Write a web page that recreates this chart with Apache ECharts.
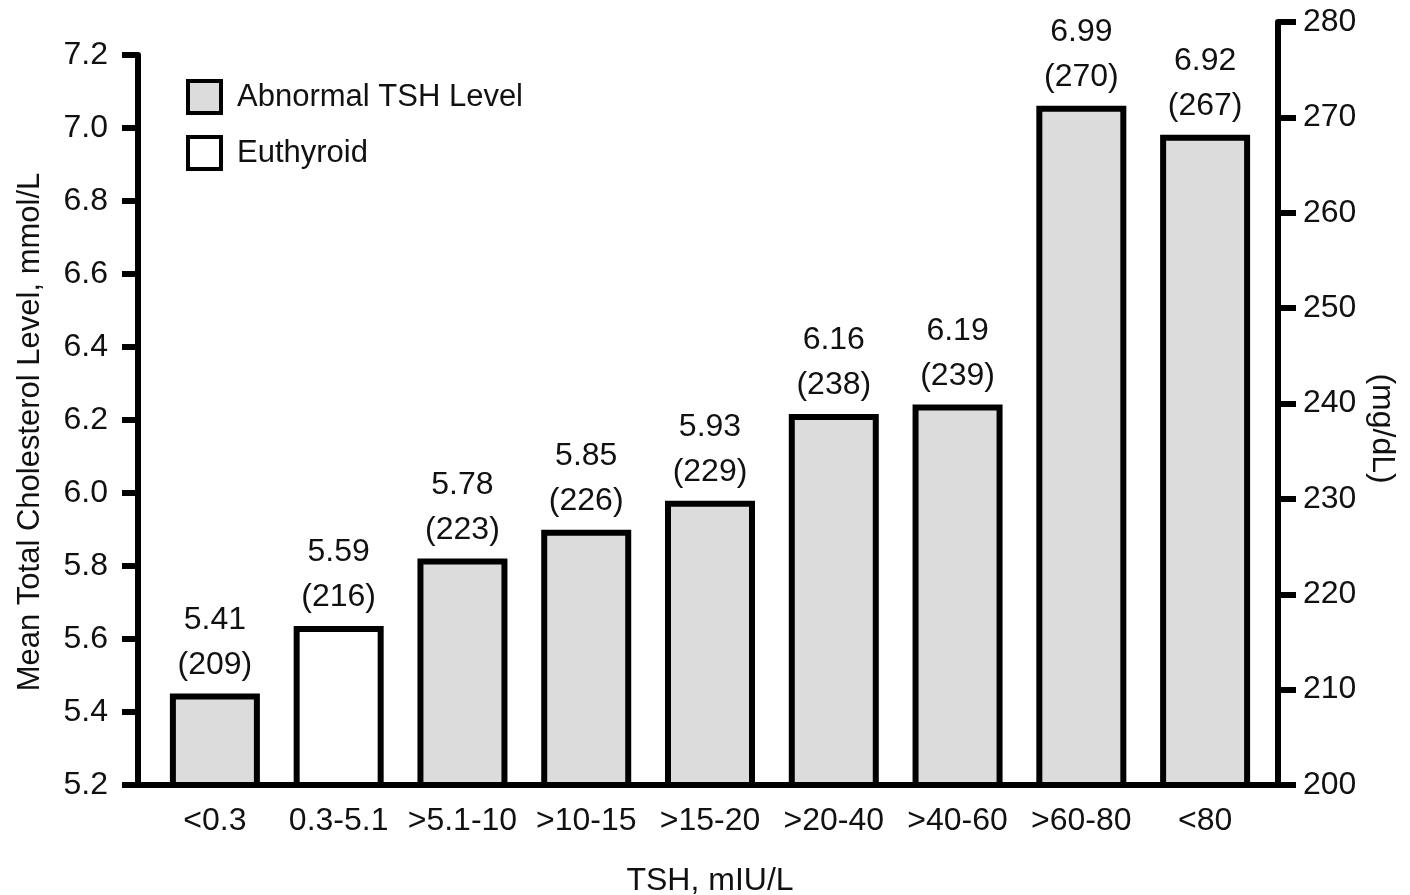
<!DOCTYPE html>
<html><head><meta charset="utf-8">
<script src="https://cdn.jsdelivr.net/npm/echarts@6/dist/echarts.min.js"></script>
<style>html,body{margin:0;padding:0;background:#fff}#c{width:1410px;height:895px}</style>
</head><body><div id="c"></div>
<script>
const categories = ['<0.3', '0.3-5.1', '>5.1-10', '>10-15', '>15-20', '>20-40', '>40-60', '>60-80', '<80'];
const mmolValues = [5.41, 5.59, 5.78, 5.85, 5.93, 6.16, 6.19, 6.99, 6.92];
const mgValues = [209, 216, 223, 226, 229, 238, 239, 270, 267];
const groups = ['Abnormal', 'Euthyroid', 'Abnormal', 'Abnormal', 'Abnormal', 'Abnormal', 'Abnormal', 'Abnormal', 'Abnormal'];
const seriesNames = ['Abnormal TSH Level', 'Euthyroid'];
const leftAxisRange = [5.2, 7.2, 0.2];
const rightAxisRange = [200, 280, 10];
// the bars in the source are drawn on a slightly different mg/dL scale than the printed right axis
const barScaleRange = [199.5, 278.7];

const FONT = '"Liberation Sans", Arial, sans-serif';
const FS = 32;
const TXT = '#111';

const abnormalData = mgValues.map((v, i) => groups[i] === 'Abnormal' ? v : '-');
const euthyroidData = mgValues.map((v, i) => groups[i] === 'Euthyroid' ? v : '-');

const labelCfg = {
  show: true, position: 'top', distance: 6,
  fontFamily: FONT, fontSize: FS, color: TXT, lineHeight: 45, align: 'center',
  formatter: p => mmolValues[p.dataIndex].toFixed(2) + '\n(' + mgValues[p.dataIndex] + ')'
};

const chart = echarts.init(document.getElementById('c'), null, {renderer: 'canvas'});
chart.setOption({
  animation: false,
  backgroundColor: '#fff',
  textStyle: {fontFamily: FONT},
  grid: [
    {left: 153, top: 22, width: 1114, height: 763, outerBoundsMode: 'none', containLabel: false},
    {left: 138, top: 22, width: 1140, height: 763, outerBoundsMode: 'none', containLabel: false},
    {left: 138, top: 55, width: 1140, height: 730, outerBoundsMode: 'none', containLabel: false}
  ],
  legend: {
    data: seriesNames, orient: 'vertical', left: 186, top: 79, padding: 0,
    itemWidth: 33, itemHeight: 32, itemGap: 20, icon: 'rect',
    itemStyle: {borderWidth: 4, borderColor: '#000'},
    textStyle: {fontFamily: FONT, fontSize: 31, color: TXT, padding: [0, 0, 0, 11], lineHeight: 32}
  },
  xAxis: [
    {gridIndex: 0, type: 'category', data: categories,
     axisLine: {show: false}, axisTick: {show: false},
     axisLabel: {fontFamily: FONT, fontSize: FS, color: TXT, margin: 20, interval: 0},
     name: 'TSH, mIU/L', nameLocation: 'middle', nameGap: 80,
     nameTextStyle: {fontFamily: FONT, fontSize: FS, color: TXT}},
    {gridIndex: 1, type: 'value', min: 0, max: 1,
     axisLine: {show: true, onZero: false, lineStyle: {color: '#000', width: 6}},
     axisTick: {show: false}, axisLabel: {show: false}, splitLine: {show: false}},
    {gridIndex: 2, type: 'value', min: 0, max: 1, show: false}
  ],
  yAxis: [
    {gridIndex: 0, type: 'value', min: barScaleRange[0], max: barScaleRange[1], show: false},
    {gridIndex: 1, type: 'value', position: 'right',
     min: rightAxisRange[0], max: rightAxisRange[1], interval: rightAxisRange[2],
     axisLine: {show: true, onZero: false, lineStyle: {color: '#000', width: 6}},
     axisTick: {show: true, length: 18, lineStyle: {color: '#000', width: 6}},
     axisLabel: {fontFamily: FONT, fontSize: FS, color: TXT, margin: 25},
     splitLine: {show: false},
     name: '(mg/dL)', nameLocation: 'middle', nameRotate: -90, nameGap: 88, nameMoveOverlap: false,
     nameTextStyle: {fontFamily: FONT, fontSize: FS, color: TXT, padding: [0, 0, 0, 50]}},
    {gridIndex: 2, type: 'value', position: 'left',
     min: leftAxisRange[0], max: leftAxisRange[1], interval: leftAxisRange[2],
     axisLine: {show: true, onZero: false, lineStyle: {color: '#000', width: 6}},
     axisTick: {show: true, length: 16, lineStyle: {color: '#000', width: 6}},
     axisLabel: {fontFamily: FONT, fontSize: FS, color: TXT, margin: 30, formatter: v => v.toFixed(1)},
     splitLine: {show: false},
     name: 'Mean Total Cholesterol Level, mmol/L', nameLocation: 'middle', nameRotate: 90, nameGap: 92, nameMoveOverlap: false,
     nameTextStyle: {fontFamily: FONT, fontSize: 31, color: TXT, padding: [0, 24, 0, 0]}}
  ],
  series: [
    {name: seriesNames[0], type: 'bar', xAxisIndex: 0, yAxisIndex: 0, data: abnormalData,
     barWidth: 90, barGap: '-100%',
     itemStyle: {color: '#dcdcdc', borderColor: '#000', borderWidth: 6},
     label: labelCfg},
    {name: seriesNames[1], type: 'bar', xAxisIndex: 0, yAxisIndex: 0, data: euthyroidData,
     barWidth: 90, barGap: '-100%',
     itemStyle: {color: '#ffffff', borderColor: '#000', borderWidth: 6},
     label: labelCfg}
  ]
});
</script></body></html>
